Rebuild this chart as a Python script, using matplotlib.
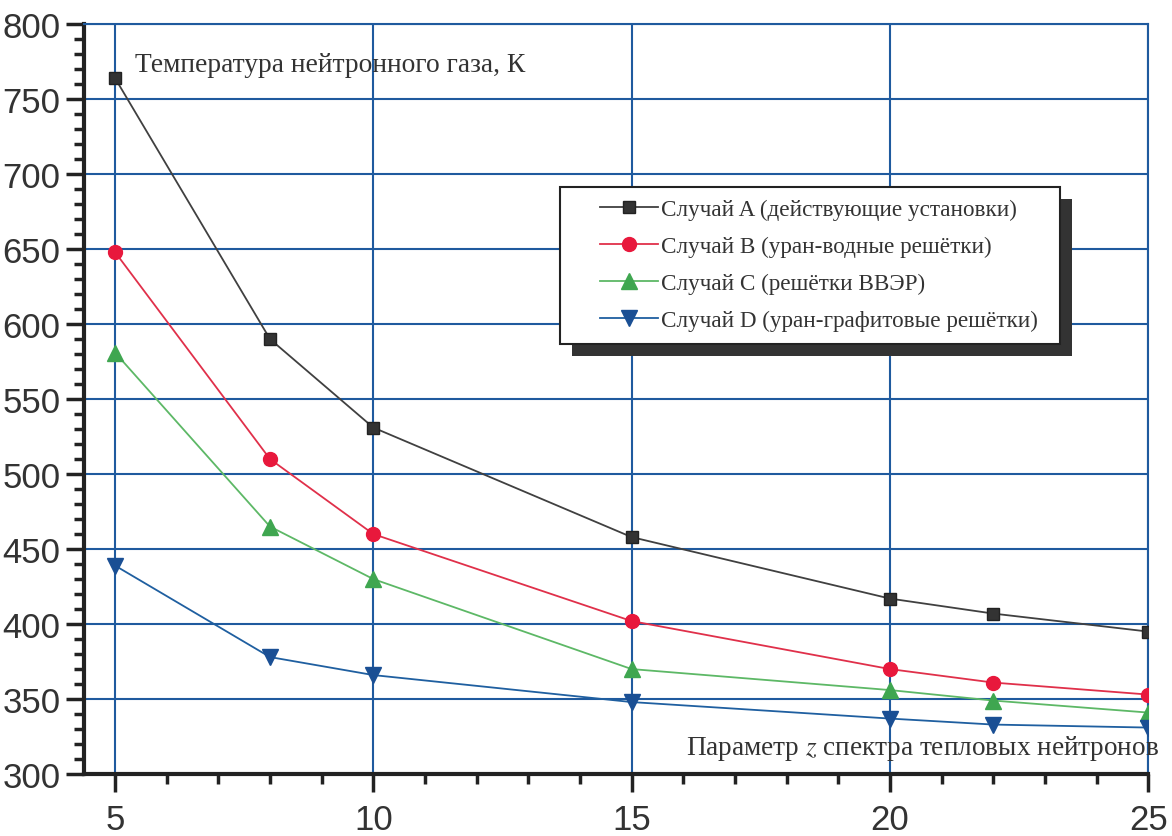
import matplotlib
matplotlib.use("Agg")
import matplotlib.pyplot as plt
from matplotlib.ticker import MultipleLocator
from matplotlib.patches import Rectangle

plt.rcParams['mathtext.fontset'] = 'stix'

z = [5, 8, 10, 15, 20, 22, 25]
case_a = [764, 590, 531, 458, 417, 407, 395]
case_b = [648, 510, 460, 402, 370, 361, 353]
case_c = [581, 465, 430, 370, 356, 349, 341]
case_d = [439, 378, 366, 348, 337, 333, 331]

labels = ["Случай A (действующие установки)",
          "Случай B (уран-водные решётки)",
          "Случай C (решётки ВВЭР)",
          "Случай D (уран-графитовые решётки)"]
x_ticks = [5, 10, 15, 20, 25]
y_ticks = [300, 350, 400, 450, 500, 550, 600, 650, 700, 750, 800]
ylabel_text = "Температура нейтронного газа, К"
xlabel_text = r"Параметр $z$ спектра тепловых нейтронов"

W, H = 1172, 837
fig = plt.figure(figsize=(W / 100, H / 100), dpi=100)
ax = fig.add_axes([0.0717, 0.074, 0.908, 0.896])

grid_c = '#1f5a9e'
ax.set_xlim(4.4, 25)
ax.set_ylim(300, 800)
ax.set_xticks(x_ticks)
ax.set_yticks(y_ticks)
ax.xaxis.set_minor_locator(MultipleLocator(1))
ax.yaxis.set_minor_locator(MultipleLocator(10))
ax.grid(True, which='major', color=grid_c, linewidth=1.5)
ax.set_axisbelow(True)

for s in ['top', 'right']:
    ax.spines[s].set_color(grid_c)
    ax.spines[s].set_linewidth(1.5)
for s in ['left', 'bottom']:
    ax.spines[s].set_color('#222222')
    ax.spines[s].set_linewidth(3)

ax.tick_params(axis='both', which='major', direction='out', length=13, width=2.5,
               color='#222222', labelsize=25, labelcolor='#333333', pad=8)
ax.tick_params(axis='both', which='minor', direction='out', length=7, width=2.5,
               color='#222222')
for lbl in ax.get_xticklabels() + ax.get_yticklabels():
    lbl.set_fontfamily('Liberation Sans')
ax.tick_params(axis='y', which='major', pad=4)

styles = [
    dict(color='#404040', marker='s', markersize=8.5, mfc='#333333', mec='#222222'),
    dict(color='#e0304a', marker='o', markersize=10, mfc='#e8183c', mec='#e8183c'),
    dict(color='#5db866', marker='^', markersize=11, mfc='#3fa650', mec='#3fa650'),
    dict(color='#1f5fa0', marker='v', markersize=11, mfc='#1a4f94', mec='#1a4f94'),
]
for vals, lab, st in zip([case_a, case_b, case_c, case_d], labels, styles):
    ax.plot(z, vals, label=lab, linewidth=1.3, zorder=3, **st)

ax.text(5.39, 773, ylabel_text, fontfamily='Liberation Serif', fontsize=19.8,
        color='#333333', va='center', ha='left')
ax.text(25.2, 318, xlabel_text, fontfamily='Liberation Serif', fontsize=19.6,
        color='#333333', va='center', ha='right', clip_on=False)

# legend frame with offset shadow
x0, y0, x1, y1 = 560, 188, 1060, 345
shadow = Rectangle(((x0 + 12) / W, (H - y1 - 12) / H), (x1 - x0) / W, (y1 - y0) / H,
                   transform=fig.transFigure, facecolor='#333333',
                   edgecolor='none', zorder=4, clip_on=False)
frame = Rectangle((x0 / W, (H - y1) / H), (x1 - x0) / W, (y1 - y0) / H,
                  transform=fig.transFigure, facecolor='white',
                  edgecolor='#222222', linewidth=1.5, zorder=4.5, clip_on=False)
ax.add_patch(shadow)
ax.add_patch(frame)

leg = ax.legend(loc='upper left', bbox_to_anchor=(600 / W, 1 - 200 / H),
                bbox_transform=fig.transFigure, borderaxespad=0, borderpad=0,
                prop={'family': 'Liberation Serif', 'size': 16.7},
                frameon=False,
                handlelength=2.5, handletextpad=0.15, labelspacing=0.68)
for t in leg.get_texts():
    t.set_color('#333333')
leg.set_zorder(5)

fig.savefig('out.png', dpi=100)
